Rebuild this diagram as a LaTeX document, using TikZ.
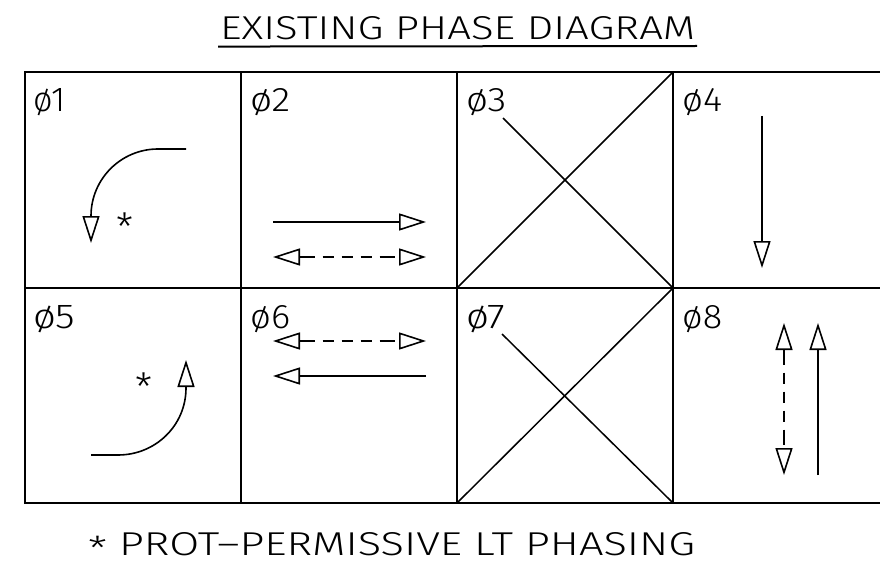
\documentclass[tikz,border=0pt]{standalone}
\usepackage{fontspec}
\usepackage{graphicx}
\newfontfamily\cad{Fira Sans Light}
\usetikzlibrary{arrows.meta}
\tikzset{
  gridline/.style={line width=1.8pt, line cap=rect},
  xline/.style={line width=1.5pt},
  arr/.style={line width=1.6pt, -{Triangle[open, length=27pt, width=17pt]}},
  darr/.style={line width=1.6pt, {Triangle[open, length=27pt, width=17pt]}-{Triangle[open, length=27pt, width=17pt]},
    dash pattern=on 15pt off 8pt on 11pt off 8pt on 11pt off 8pt on 11pt off 8pt on 15pt off 200pt},
  lbl/.style={anchor=base west, inner sep=0pt},
  star/.style={anchor=north, inner sep=0pt}
}
\newcommand{\cadbox}[3]{\resizebox{#1}{#2}{\cad #3}}
\begin{document}
\begin{tikzpicture}[x=1pt,y=-1pt]
\useasboundingbox (0,0) rectangle (880,572);
% title
\node[lbl] (title) at (220,40) {\cadbox{475pt}{23pt}{EXISTING PHASE DIAGRAM}};
\draw[line width=2pt] (title.south west) ++(-2,6) coordinate (u1) -- (697,46) coordinate (u2);
% grid
\draw[gridline] (25,72) -- (880,72);
\draw[gridline] (25,288) -- (880,288);
\draw[gridline] (25,503) -- (880,503);
\foreach \x in {25,241,457,673} \draw[gridline] (\x,72) -- (\x,503);
% labels
\node[lbl] (p1) at (33,112) {\cadbox{32pt}{23pt}{ø1}};
\node[lbl] (p2) at (250,112) {\cadbox{40pt}{23pt}{ø2}};
\node[lbl] (p3) at (466,112) {\cadbox{40pt}{23pt}{ø3}};
\node[lbl] (p4) at (682,112) {\cadbox{40pt}{23pt}{ø4}};
\node[lbl] (p5) at (33,328) {\cadbox{42pt}{23pt}{ø5}};
\node[lbl] (p6) at (250,328) {\cadbox{40pt}{23pt}{ø6}};
\node[lbl] (p7) at (466,328) {\cadbox{39pt}{23pt}{ø7}};
\node[lbl] (p8) at (682,328) {\cadbox{40pt}{23pt}{ø8}};
% phase 1
\draw[arr] (186,149) -- (158,149) .. controls (121,149) and (91,179) .. (91,216) -- (91,243);
\node[star] (s1) at (125,213) {\cadbox{17pt}{!}{*}};
% phase 2
\draw[arr] (273,222) -- (426,222);
\draw[darr] (273,257) -- (426,257);
% phase 3
\draw[xline] (457,288) -- (673,72);
\draw[xline] (503,118) -- (673,288);
% phase 4
\draw[arr] (762,116) -- (762,268);
% phase 5
\draw[arr] (91,455) -- (118,455) .. controls (155.5,455) and (186,425.5) .. (186,388) -- (186,360);
\node[star] (s5) at (144,373) {\cadbox{17pt}{!}{*}};
% phase 6
\draw[darr] (273,341) -- (426,341);
\draw[arr] (426,376) -- (273,376);
% phase 7
\draw[xline] (457,503) -- (673,288);
\draw[xline] (502,334) -- (673,503);
% phase 8
\draw[darr] (784,323) -- (784,475);
\draw[arr] (818,475) -- (818,323);
% footer
\node[lbl] (foot) at (88,555) {\cadbox{607pt}{23pt}{\raisebox{-0.18em}{*} PROT–PERMISSIVE LT PHASING}};
\end{tikzpicture}
\end{document}
